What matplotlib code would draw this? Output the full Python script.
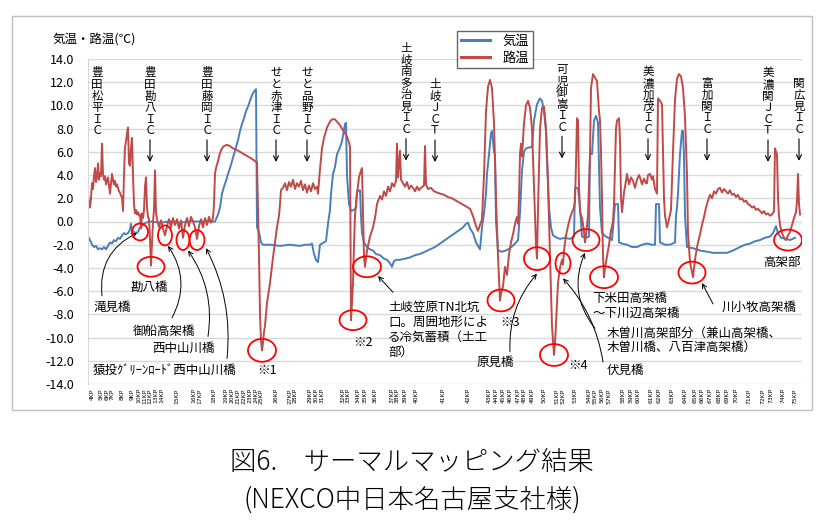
import matplotlib
matplotlib.use("Agg")
import matplotlib.pyplot as plt
from matplotlib.patches import Ellipse, Rectangle
import numpy as np

plt.rcParams['font.family'] = ['Noto Sans CJK JP', 'DejaVu Sans']

# position along the route (chart units) and temperatures
pos_air = [88, 90, 92, 94, 96, 98, 100, 102, 104, 106, 108, 110, 112, 114, 116, 118, 120, 122, 124, 126,
           128, 130, 131, 132, 134, 136, 138, 140, 142, 144, 146, 150, 160, 170, 180, 190, 200, 210, 215, 218,
           220, 222, 224, 226, 228, 230, 232, 234, 236, 238, 240, 242, 244, 246, 248, 250, 252, 254, 256, 257,
           259, 261, 263, 270, 280, 290, 300, 305, 310, 312, 314, 316, 318, 320, 324, 326, 328, 330, 331, 333,
           335, 337, 340, 342, 344, 345, 346, 347, 349, 351, 354, 356, 357, 360, 361, 362, 364, 367, 370, 373,
           376, 380, 384, 387, 390, 392, 394, 397, 400, 405, 410, 415, 420, 425, 430, 435, 440, 445, 450, 455,
           460, 463, 466, 468, 470, 473, 476, 480, 482, 484, 486, 487, 489, 491, 492, 494, 495, 496, 498, 502,
           506, 510, 514, 518, 520, 522, 524, 526, 530, 532, 534, 537, 540, 542, 544, 546, 547, 549, 551, 553,
           557, 560, 565, 570, 574, 575, 578, 580, 582, 586, 589, 590, 592, 594, 596, 598, 599, 600, 602, 606,
           612, 615, 618, 619, 622, 627, 632, 637, 642, 647, 652, 655, 656, 659, 660, 665, 670, 675, 676, 677,
           678, 680, 682, 683, 684, 685, 687, 693, 700, 707, 713, 720, 727, 733, 740, 745, 750, 755, 760, 765,
           770, 773, 776, 778, 781, 786, 790, 795]
air_temp = [-1.3, -1.6, -2.0, -2.2, -2.1, -2.4, -2.3, -2.4, -2.2, -2.4, -2.1, -1.8, -1.9, -1.6, -1.7, -1.4, -1.5, -1.2, -1.0, -1.1,
            -1.0, -0.7, -0.2, -0.8, -0.9, -1.0, -0.9, -0.5, -0.4, -0.2, -0.1, 0.0, -0.1, 0.0, -0.1, 0.0, 0.0, 0.0, 0.0, 0.6,
            1.2, 2.4, 3.0, 3.5, 4.1, 4.6, 5.2, 5.8, 6.4, 7.0, 7.8, 8.4, 8.9, 9.5, 9.9, 10.4, 10.9, 11.2, 11.4, -0.5,
            -0.9, -1.8, -2.0, -2.0, -2.1, -2.0, -2.1, -2.0, -2.0, -1.9, -2.8, -3.3, -3.5, -2.0, -1.8, -1.7, -0.2, 1.0, 2.4, 4.1,
            4.7, 5.8, 6.4, 6.9, 7.9, 8.4, 8.5, 4.0, 1.5, 0.9, 1.0, 1.2, 2.6, 2.7, 0.5, -1.0, -1.8, -2.2, -2.4, -2.5,
            -2.8, -2.9, -3.2, -3.3, -3.6, -3.9, -3.4, -3.3, -3.3, -3.2, -3.1, -2.9, -2.8, -2.6, -2.4, -2.2, -1.9, -1.6, -1.3, -1.0,
            -0.7, -0.5, -0.2, -0.1, -0.6, -1.0, -1.8, -2.4, -0.5, 0.7, 2.4, 4.1, 5.8, 7.6, 7.8, 6.0, 5.8, 0.0, -2.5, -2.6,
            -2.5, -2.3, -2.0, -1.6, 0.7, 4.4, 6.0, 6.3, 6.4, 6.4, 8.7, 10.1, 10.6, 10.4, 9.5, 7.8, 5.2, 1.2, -0.5, -1.2,
            -1.4, -1.5, -1.4, -1.5, -1.3, 2.9, 2.9, 1.2, -1.3, -1.4, -1.3, 5.8, 5.8, 8.7, 9.1, 8.5, 5.0, 1.2, -1.0, -1.3,
            -1.6, 1.5, 1.5, -1.8, -1.9, -2.0, -2.2, -2.2, -2.0, -1.9, -2.0, -2.0, 1.5, 1.5, -1.8, -2.0, -2.0, -1.8, 0.5, 1.2,
            2.4, 5.8, 7.8, 7.8, 5.6, 0.5, -2.2, -2.3, -2.5, -2.6, -2.7, -2.7, -2.7, -2.5, -2.2, -2.0, -1.9, -1.7, -1.6, -1.4,
            -1.3, -1.0, -0.4, -1.0, -1.4, -1.5, -1.6, -1.4]

pos_road = [88, 89, 90, 91, 92, 93, 94, 95, 96, 97, 98, 99, 100, 101, 102, 103, 104, 105, 106, 107,
            108, 109, 110, 111, 112, 113, 114, 115, 116, 117, 118, 119, 120, 121, 122, 123, 124, 125, 126, 127,
            128, 129, 130, 131, 132, 133, 134, 135, 136, 137, 138, 139, 140, 141, 142, 143, 144, 145, 146, 147,
            148, 149, 150, 151, 152, 153, 154, 155, 156, 157, 159, 161, 163, 165, 167, 169, 171, 173, 175, 177,
            179, 181, 183, 185, 187, 189, 191, 193, 195, 197, 199, 201, 203, 205, 207, 209, 211, 213, 214, 215,
            216, 218, 220, 222, 224, 227, 230, 233, 236, 240, 244, 248, 252, 255, 257, 258, 259, 260, 261, 262,
            263, 264, 265, 267, 270, 273, 275, 277, 279, 280, 281, 283, 285, 287, 289, 291, 293, 295, 297, 299,
            301, 303, 305, 307, 309, 311, 313, 315, 317, 318, 320, 322, 324, 327, 330, 332, 335, 337, 340, 342,
            345, 347, 349, 350, 351, 352, 353, 354, 355, 357, 359, 361, 362, 363, 364, 365, 366, 367, 370, 373,
            375, 377, 380, 382, 384, 386, 388, 390, 392, 394, 396, 397, 398, 400, 401, 403, 405, 407, 409, 411,
            413, 415, 417, 419, 421, 424, 425, 426, 428, 431, 434, 437, 440, 444, 448, 452, 456, 460, 464, 468,
            470, 472, 474, 476, 478, 480, 482, 484, 486, 488, 490, 492, 494, 496, 498, 500, 501, 503, 505, 507,
            509, 511, 513, 515, 517, 518, 519, 520, 521, 522, 524, 526, 528, 530, 532, 534, 536, 537, 538, 540,
            542, 544, 546, 548, 550, 552, 554, 555, 557, 558, 560, 562, 563, 564, 566, 568, 570, 572, 574, 575,
            576, 577, 578, 579, 580, 582, 584, 585, 586, 588, 590, 591, 593, 595, 597, 599, 600, 601, 602, 603,
            604, 605, 607, 609, 611, 613, 614, 616, 617, 619, 620, 621, 622, 624, 626, 627, 629, 631, 633, 635,
            637, 639, 640, 642, 644, 646, 647, 648, 650, 652, 653, 655, 657, 658, 660, 662, 663, 664, 665, 667,
            669, 671, 673, 675, 677, 679, 681, 683, 685, 687, 688, 690, 692, 693, 695, 697, 700, 702, 704, 706,
            708, 710, 712, 714, 716, 718, 720, 722, 724, 726, 728, 730, 732, 734, 736, 738, 740, 742, 744, 746,
            748, 750, 752, 754, 756, 758, 760, 762, 764, 766, 768, 770, 772, 774, 775, 776, 777, 778, 779, 780,
            782, 784, 786, 788, 790, 792, 794, 796, 797, 798, 799, 800]
road_temp = [2.4, 1.6, 1.2, 2.0, 3.3, 2.8, 3.9, 4.6, 3.4, 3.8, 5.0, 3.6, 4.2, 3.9, 6.7, 4.1, 3.6, 3.9, 3.2, 3.5,
             3.8, 3.1, 2.4, 3.3, 4.1, 3.6, 3.2, 3.5, 3.0, 3.2, 2.9, 2.6, 2.5, 2.2, 2.1, 0.9, 4.0, 6.4, 6.9, 7.6,
             8.1, 5.0, 4.8, 6.4, 7.2, 4.0, 1.5, 0.7, 1.0, 0.6, 0.8, 0.5, 0.6, -0.6, 0.7, 0.3, 1.0, 3.0, 3.8, 1.2,
             0.4, 0.2, -1.5, -3.8, -2.0, 0.0, 1.0, 4.4, 0.8, 0.2, -0.5, 0.1, -0.6, -1.2, -0.4, 0.2, -0.5, 0.3, -0.3, 0.2,
             -0.6, 0.1, -1.4, -0.3, 0.3, -0.4, 0.4, 0.0, -0.5, -1.5, -0.4, 0.2, -0.5, 0.3, -0.3, 0.4, -0.1, 0.3, 1.5, 4.1,
             4.6, 5.2, 5.9, 6.3, 6.5, 6.6, 6.5, 6.3, 6.2, 6.0, 5.8, 5.6, 5.4, 5.2, 5.1, 1.0, -3.0, -8.0, -10.2, -11.1,
             -10.4, -9.5, -9.0, -7.0, -5.3, -3.1, -1.8, -0.5, 0.5, 1.5, 2.7, 2.9, 3.3, 2.7, 3.4, 3.0, 3.6, 2.8, 3.3, 3.0,
             3.5, 2.7, 3.2, 2.5, 3.1, 2.6, 3.3, 2.8, 3.0, 2.4, 4.5, 6.3, 7.2, 8.1, 8.6, 8.8, 8.8, 8.6, 8.3, 8.0,
             7.6, 7.3, 6.8, 6.4, -8.5, -7.0, -5.3, -2.0, 0.5, 2.4, 3.8, 4.4, 4.6, 1.0, -3.0, -3.9, -3.2, -2.5, -1.3, -0.5,
             0.3, 1.5, 2.2, 1.9, 2.6, 2.2, 3.0, 2.6, 3.3, 3.0, 3.5, 6.7, 3.8, 6.1, 3.6, 3.3, 3.0, 3.4, 2.8, 3.1,
             2.9, 2.6, 3.0, 2.7, 2.9, 3.1, 6.5, 3.2, 2.8, 2.9, 2.6, 2.5, 2.4, 2.3, 2.1, 2.0, 1.8, 1.6, 1.4, 1.2,
             1.1, 0.7, 0.2, -0.4, -0.8, -0.3, 0.2, 4.0, 9.5, 11.6, 12.2, 11.5, 8.5, 2.0, -3.0, -6.8, -6.2, -5.6, -3.9, -4.6,
             -2.8, -1.8, -1.1, -0.2, 0.4, -0.2, 2.0, 5.8, 6.7, 5.6, 8.5, 10.0, 10.4, 9.8, 8.0, 3.0, -2.0, -3.2, 1.0, 8.0,
             9.8, 9.9, 8.0, 3.5, -3.0, -9.0, -11.5, -10.5, -7.0, -5.3, -4.0, -3.3, -3.7, -2.5, -1.2, -0.4, 0.3, 0.8, 1.2, 1.8,
             5.0, 8.9, 8.7, 3.0, 0.8, 0.3, -0.8, -1.8, -1.2, 0.5, 5.8, 11.5, 12.7, 12.4, 12.1, 9.5, 8.7, 6.0, 2.0, -3.0,
             -4.8, -4.0, -3.0, -2.0, -0.8, 0.0, 1.5, 8.0, 8.7, 8.9, 7.0, 2.0, 0.8, 2.5, 3.5, 4.1, 3.2, 3.8, 3.5, 2.9,
             3.6, 4.0, 3.8, 3.2, 3.7, 3.3, 3.3, 4.0, 4.1, 3.6, 3.9, 2.8, 2.4, 10.6, 10.4, 10.1, 6.0, 2.0, 0.5, -0.5,
             0.2, 1.0, 6.0, 10.5, 12.3, 12.7, 12.5, 11.5, 9.0, 4.0, -1.0, -3.5, -4.4, -4.8, -3.3, -2.2, -1.1, -0.3, 0.4, 1.2,
             1.8, 2.3, 2.0, 2.6, 2.4, 2.8, 2.9, 2.5, 2.8, 2.6, 2.4, 2.7, 2.3, 2.4, 2.1, 2.3, 1.9, 2.0, 1.7, 1.8,
             1.5, 1.4, 1.2, 1.3, 1.0, 1.1, 0.9, 0.7, 0.9, 0.6, 0.7, 0.5, 0.6, 0.9, 6.3, 6.0, 5.8, 2.0, 0.5, -0.3,
             -1.0, -1.4, -1.6, -1.2, -0.9, -0.3, 0.3, 0.8, 1.8, 4.1, 1.5, 0.6]

# kilometre posts on the category axis
kp_labels = [f'{k}KP' for k in range(4, 76)]
kp_pos = [92, 101, 107, 112, 122, 132, 139, 145, 150, 156, 162, 177, 194, 200, 214, 226, 232, 238, 244, 250,
          256, 261, 276, 290, 295, 310, 316, 322, 343, 348, 358, 365, 375, 392, 397, 405, 416, 443,
          468, 489, 496, 503, 510, 518, 524, 532, 544, 557, 563, 575, 589, 595, 602, 609, 623, 631, 638,
          651, 659, 672, 685, 695, 702, 710, 719, 727, 736, 749, 763, 771, 783, 795]

# interchanges written vertically at the top
ic_names = ['豊田松平ＩＣ', '豊田勘八ＩＣ', '豊田藤岡ＩＣ', 'せと赤津ＩＣ', 'せと品野ＩＣ', '土岐南多治見ＩＣ',
            '土岐ＪＣＴ', '可児御嵩ＩＣ', '美濃加茂ＩＣ', '富加関ＩＣ', '美濃関ＪＣＴ', '関広見ＩＣ']
ic_pos = [97, 150, 207, 276, 307, 406, 435, 562, 648, 707, 768, 799]
ic_top = [12.8, 12.8, 12.8, 12.8, 12.8, 14.9, 11.8, 13.1, 12.9, 11.9, 12.8, 11.9]
ic_arrow = [False, True, True, True, True, True, True, True, True, True, True, True]

# red circles: centre x, centre y, width, height (px)
circ_x = [140, 151, 165, 183, 197, 262, 353, 367, 501, 537, 554, 563, 586, 604, 692, 788]
circ_y = [-0.9, -3.9, -1.2, -1.6, -1.6, -11.1, -8.5, -3.9, -6.8, -3.2, -11.5, -3.6, -1.6, -4.8, -4.4, -1.6]
circ_w = [16, 27, 14, 13, 15, 28, 27, 28, 27, 26, 28, 15, 27, 28, 27, 28]
circ_h = [17, 20, 20, 20, 20, 23, 20, 21, 22, 23, 22, 21, 22, 22, 22, 21]

PX = 11.67  # pixels per degree on the y axis

fig = plt.figure(figsize=(8.25, 5.27), dpi=100)
fig.patches.append(Rectangle((12 / 825, 1 - 410 / 527), 800 / 825, 394 / 527, transform=fig.transFigure,
                             fill=False, edgecolor='#BFBFBF', lw=1.0))
ax = fig.add_axes([88 / 825, 1 - 384 / 527, 714 / 825, 325 / 527])

ax.plot(pos_air, air_temp, color='#4A7EBB', lw=1.4, label='気温')
ax.plot(pos_road, road_temp, color='#BE4B48', lw=1.4, label='路温')

ax.set_xlim(88, 802)
ax.set_ylim(-14, 14)
ax.set_yticks(np.arange(-14, 15, 2))
ax.set_yticklabels([f'{v:.1f}' for v in np.arange(-14, 15, 2)], fontsize=9)
ax.set_xticks(kp_pos)
ax.set_xticklabels(kp_labels, rotation=90, fontsize=4.3, family='DejaVu Sans')
ax.tick_params(axis='both', length=0)
ax.tick_params(axis='y', pad=10)
ax.tick_params(axis='x', pad=3)
ax.grid(axis='y', color='#D9D9D9', lw=1.0)
ax.set_axisbelow(True)
for s in ['top', 'right', 'bottom']:
    ax.spines[s].set_visible(False)
ax.spines['left'].set_color('#D9D9D9')

fig.text(53 / 825, 1 - 40 / 527, '気温・路温(℃)', fontsize=9, va='center', ha='left')

leg = ax.legend(loc='upper left', bbox_to_anchor=(450 / 825, 1 - 24 / 527), bbox_transform=fig.transFigure,
                fontsize=9.5, frameon=True, fancybox=False, edgecolor='#404040', handlelength=2.2,
                handletextpad=1.0, borderpad=0.3, labelspacing=0.3)
leg.get_frame().set_linewidth(1.0)
for line in leg.get_lines():
    line.set_linewidth(2.2)

# interchange labels, one character per line
pitch = 11.6 / PX
for name, x, top, arr in zip(ic_names, ic_pos, ic_top, ic_arrow):
    for i, ch in enumerate(name):
        ax.text(x, top - i * pitch, ch, fontsize=8.3, ha='center', va='center')
    if arr:
        ystart = top - (len(name) - 1) * pitch - 0.8
        ax.annotate('', xy=(x, ystart - 1.9), xytext=(x, ystart),
                    arrowprops=dict(arrowstyle='->', lw=0.8, color='black', mutation_scale=9,
                                    shrinkA=0, shrinkB=0))

for x, y, w, h in zip(circ_x, circ_y, circ_w, circ_h):
    ax.add_patch(Ellipse((x, y), w, h / PX, fill=False, edgecolor='#FF0000', lw=1.3, zorder=5))

# annotation texts
notes = [
    (93, -7.4, '滝見橋'),
    (131, -5.7, '勘八橋'),
    (133, -9.5, '御船高架橋'),
    (152, -10.9, '西中山川橋'),
    (93, -12.8, '猿投ｸﾞﾘｰﾝﾛｰﾄﾞ西中山川橋'),
    (257, -12.8, '※1'),
    (353, -10.4, '※2'),
    (388, -7.4, '土岐笠原TN北坑'),
    (388, -8.7, '口。周囲地形によ'),
    (388, -10.0, 'る冷気蓄積（土工'),
    (388, -11.3, '部）'),
    (500, -8.7, '※3'),
    (477, -12.1, '原見橋'),
    (568, -12.4, '※4'),
    (607, -12.8, '伏見橋'),
    (607, -9.6, '木曽川高架部分（兼山高架橋、'),
    (607, -10.8, '木曽川橋、八百津高架橋）'),
    (592, -6.6, '下米田高架橋'),
    (592, -7.9, '～下川辺高架橋'),
    (722, -7.4, '川小牧高架橋'),
    (763, -3.5, '高架部'),
]
for x, y, t in notes:
    ax.text(x, y, t, fontsize=9, ha='left', va='center')

arrows = [
    ((137, -1.0), (102, -6.4), -0.35),
    ((168, -2.1), (172, -8.3), 0.3),
    ((188, -2.5), (208, -9.9), 0.2),
    ((206, -2.3), (227, -11.8), 0.15),
    ((378, -4.7), (393, -6.1), 0.0),
    ((537, -4.5), (510, -11.2), -0.2),
    ((563, -4.9), (603, -12.1), 0.15),
    ((585, -2.7), (595, -9.2), -0.3),
    ((702, -5.3), (713, -7.1), 0.0),
]
for xy, xyt, rad in arrows:
    ax.annotate('', xy=xy, xytext=xyt,
                arrowprops=dict(arrowstyle='->', lw=0.7, color='black', mutation_scale=8,
                                shrinkA=0, shrinkB=0, connectionstyle=f'arc3,rad={rad}'))

fig.text(412 / 825, 1 - 462 / 527, '図6.　サーマルマッピング結果', fontsize=19, fontweight='light',
         ha='center', va='center')
fig.text(412 / 825, 1 - 500 / 527, '(NEXCO中日本名古屋支社様)', fontsize=19, fontweight='light',
         ha='center', va='center')

fig.savefig('out.png', dpi=100)
